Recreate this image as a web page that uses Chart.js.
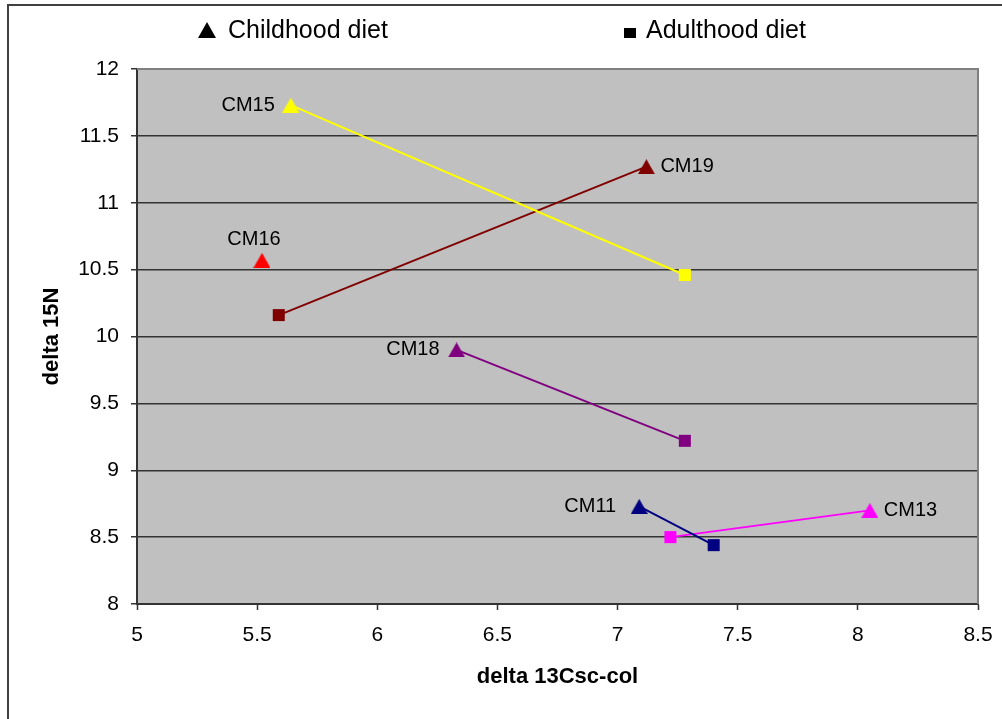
<!DOCTYPE html>
<html lang="en">
<head>
    <meta charset="UTF-8">
    <title>delta 15N vs delta 13Csc-col</title>
    <style>
        body {
            margin: 0;
            background: #ffffff;
        }
        #chart {
            display: block;
        }
    </style>
    <script src="https://cdn.jsdelivr.net/npm/chart.js"></script>
</head>
<body>
    <canvas id="chart" width="1002" height="719"></canvas>
    <script>
        // values
        const samples = ['CM15', 'CM19', 'CM16', 'CM18', 'CM11', 'CM13'];
        const childX = [5.64, 7.12, 5.52, 6.33, 7.09, 8.05];
        const childY = [11.73, 11.27, 10.57, 9.90, 8.73, 8.70];
        const adultX = [7.28, 5.59, null, 7.28, 7.40, 7.22];
        const adultY = [10.46, 10.16, null, 9.22, 8.44, 8.50];
        const xTicks = [5, 5.5, 6, 6.5, 7, 7.5, 8, 8.5];
        const yTicks = [8, 8.5, 9, 9.5, 10, 10.5, 11, 11.5, 12];
        const legendNames = ['Childhood diet', 'Adulthood diet'];

        const colors = ['#FFFF00', '#800000', '#FF0000', '#800080', '#000080', '#FF00FF'];
        // where each sample name sits next to its childhood point
        const labelPlace = [
            { align: 'right', dx: -16, dy: 0 },
            { align: 'left', dx: 14, dy: 0 },
            { align: 'center', dx: -8, dy: -21 },
            { align: 'right', dx: -17, dy: 0 },
            { align: 'right', dx: -23, dy: 0 },
            { align: 'left', dx: 14, dy: 0 }
        ];

        const FONT = '"Liberation Sans", Arial, sans-serif';

        // triangle marker centred on its box, like the spreadsheet draws it
        function triangleImage(color, w, h) {
            const c = document.createElement('canvas');
            c.width = w;
            c.height = h;
            const g = c.getContext('2d');
            g.fillStyle = color;
            g.beginPath();
            g.moveTo(w / 2, 0);
            g.lineTo(w, h);
            g.lineTo(0, h);
            g.closePath();
            g.fill();
            return c;
        }

        const datasets = samples.map((name, i) => {
            const pts = [{ x: childX[i], y: childY[i] }];
            const styles = [triangleImage(colors[i], 17, 15)];
            if (adultX[i] !== null) {
                pts.push({ x: adultX[i], y: adultY[i] });
                styles.push('rect');
            }
            return {
                label: name,
                data: pts,
                showLine: true,
                borderColor: colors[i],
                backgroundColor: colors[i],
                borderWidth: 2,
                pointStyle: styles,
                pointRadius: 8.5,
                pointBorderWidth: 0,
                pointBorderColor: colors[i],
                pointBackgroundColor: colors[i]
            };
        });

        // white page, outer frame and grey plot area
        const backdrop = {
            id: 'backdrop',
            beforeDraw(chart) {
                const ctx = chart.ctx;
                const a = chart.chartArea;
                ctx.save();
                ctx.fillStyle = '#ffffff';
                ctx.fillRect(0, 0, chart.width, chart.height);
                ctx.strokeStyle = '#404040';
                ctx.lineWidth = 2;
                ctx.beginPath();
                ctx.moveTo(8, chart.height);
                ctx.lineTo(8, 5);
                ctx.lineTo(chart.width, 5);
                ctx.stroke();
                ctx.fillStyle = '#C0C0C0';
                ctx.fillRect(a.left, a.top, a.right - a.left, a.bottom - a.top);
                ctx.restore();
            },
            beforeDatasetsDraw(chart) {
                const ctx = chart.ctx;
                const a = chart.chartArea;
                ctx.save();
                ctx.strokeStyle = '#808080';
                ctx.lineWidth = 2;
                ctx.beginPath();
                ctx.moveTo(a.left, a.top);
                ctx.lineTo(a.right, a.top);
                ctx.lineTo(a.right, a.bottom);
                ctx.stroke();
                ctx.restore();
            }
        };

        // sample names and the legend text at the top
        const annotations = {
            id: 'annotations',
            afterDatasetsDraw(chart) {
                const ctx = chart.ctx;
                ctx.save();
                ctx.fillStyle = '#000000';
                ctx.font = '20px ' + FONT;
                ctx.textBaseline = 'middle';
                samples.forEach((name, i) => {
                    const p = chart.getDatasetMeta(i).data[0];
                    const pl = labelPlace[i];
                    ctx.textAlign = pl.align;
                    ctx.fillText(name, p.x + pl.dx, p.y + pl.dy);
                });

                ctx.font = '25px ' + FONT;
                ctx.textAlign = 'left';
                ctx.beginPath();
                ctx.moveTo(207, 22);
                ctx.lineTo(216, 38);
                ctx.lineTo(198, 38);
                ctx.closePath();
                ctx.fill();
                ctx.fillText(legendNames[0], 228, 31);
                ctx.fillRect(624, 28, 12, 10);
                ctx.fillText(legendNames[1], 646, 31);
                ctx.restore();
            }
        };

        new Chart(document.getElementById('chart'), {
            type: 'scatter',
            data: { datasets: datasets },
            options: {
                responsive: false,
                animation: false,
                devicePixelRatio: 1,
                layout: {
                    padding: { left: 0, top: 69, right: 24, bottom: 0 }
                },
                plugins: {
                    legend: { display: false },
                    tooltip: { enabled: false }
                },
                scales: {
                    x: {
                        type: 'linear',
                        min: 5,
                        max: 8.5,
                        afterBuildTicks: scale => {
                            scale.ticks = xTicks.map(v => ({ value: v }));
                        },
                        afterFit: scale => {
                            scale.height = 115;
                            scale.paddingLeft = 0;
                            scale.paddingRight = 0;
                        },
                        ticks: {
                            color: '#000000',
                            padding: 13,
                            font: { family: FONT, size: 21 },
                            maxRotation: 0,
                            callback: v => String(v)
                        },
                        grid: {
                            drawOnChartArea: false,
                            drawTicks: true,
                            tickLength: 6,
                            tickColor: '#333333',
                            tickWidth: 1.5
                        },
                        border: { display: true, color: '#333333', width: 2 },
                        title: {
                            display: true,
                            text: 'delta 13Csc-col',
                            color: '#000000',
                            font: { family: FONT, size: 22, weight: 'bold' },
                            padding: { top: 0, bottom: 29 }
                        }
                    },
                    y: {
                        type: 'linear',
                        min: 8,
                        max: 12,
                        afterBuildTicks: scale => {
                            scale.ticks = yTicks.map(v => ({ value: v }));
                        },
                        afterFit: scale => {
                            scale.width = 137;
                            scale.paddingTop = 0;
                            scale.paddingBottom = 0;
                        },
                        ticks: {
                            color: '#000000',
                            padding: 12,
                            font: { family: FONT, size: 21 },
                            callback: v => String(v)
                        },
                        grid: {
                            drawTicks: true,
                            tickLength: 6,
                            tickColor: '#333333',
                            tickWidth: 1.5,
                            color: ctx => (ctx.tick && ctx.tick.value === 12 ? '#808080' : '#333333'),
                            lineWidth: 1.5
                        },
                        border: { display: true, color: '#333333', width: 2 },
                        title: {
                            display: true,
                            text: 'delta 15N',
                            color: '#000000',
                            font: { family: FONT, size: 22, weight: 'bold' },
                            padding: { top: 39, bottom: 0 }
                        }
                    }
                }
            },
            plugins: [backdrop, annotations]
        });
    </script>
</body>
</html>
